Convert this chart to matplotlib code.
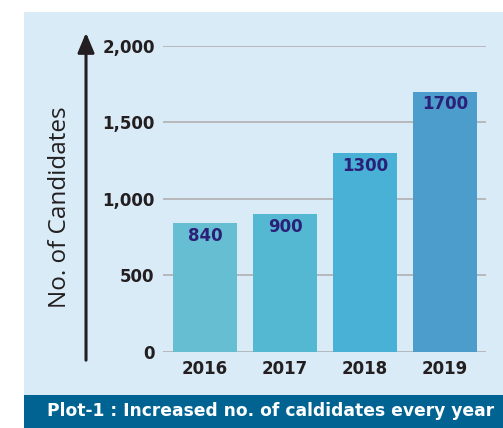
import matplotlib.pyplot as plt
from matplotlib.patches import Rectangle, FancyArrowPatch

years = ["2016", "2017", "2018", "2019"]
candidates = [840, 900, 1300, 1700]
bar_colors = ["#66bed3", "#55b8d3", "#4ab1d6", "#4c9ccc"]
yticks = [0, 500, 1000, 1500, 2000]
ytick_labels = ["0", "500", "1,000", "1,500", "2,000"]
caption = "Plot-1 : Increased no. of caldidates every year"

plt.rcParams['font.family'] = ['DejaVu Sans']

fig = plt.figure(figsize=(5.03, 4.28), dpi=100)
fig.patch.set_facecolor("white")

# background panel and caption banner
fig.patches.append(Rectangle((0.0477, 0.077), 1.0, 0.895, transform=fig.transFigure,
                             facecolor="#daebf8", edgecolor="none", zorder=-2))
fig.patches.append(Rectangle((0.0477, 0.0), 1.0, 0.077, transform=fig.transFigure,
                             facecolor="#006391", edgecolor="none", zorder=-1))

ax = fig.add_axes([0.324, 0.1776, 0.642, 0.715])
ax.set_facecolor("none")

x = list(range(len(years)))
bars = ax.bar(x, candidates, width=0.8, color=bar_colors, zorder=3)

for b, v in zip(bars, candidates):
    ax.annotate(str(v), (b.get_x() + b.get_width() / 2, v), xytext=(0, -2.5),
                textcoords="offset points", ha="center", va="top",
                fontsize=12, fontweight="bold", color="#2b1f78", zorder=4)

ax.set_ylim(0, 2000)
ax.set_xlim(-0.525, 3.51)
ax.set_yticks(yticks)
ax.set_yticklabels(ytick_labels)
ax.set_xticks(x)
ax.set_xticklabels(years)
ax.tick_params(length=0, labelsize=12, colors="#231f20", pad=6)
for lbl in ax.get_xticklabels() + ax.get_yticklabels():
    lbl.set_fontweight("bold")
ax.grid(axis="y", color="#b0b0b0", linewidth=1.2, zorder=0)
for s in ax.spines.values():
    s.set_visible(False)

# vertical arrow for y axis
fig.add_artist(FancyArrowPatch(
    (0.171, 0.152), (0.171, 0.93), transform=fig.transFigure,
    arrowstyle="-|>,head_length=1.0,head_width=0.42", mutation_scale=12,
    linewidth=2.2, color="#231f20"))

fig.text(0.119, 0.515, "No. of Candidates", rotation=90, ha="center", va="center",
         fontsize=17.5, family="Open Sans", color="#231f20")

fig.text(0.093, 0.04, caption, ha="left", va="center", fontsize=12.3,
         fontweight="bold", color="white")

fig.savefig("out.png", dpi=100)
